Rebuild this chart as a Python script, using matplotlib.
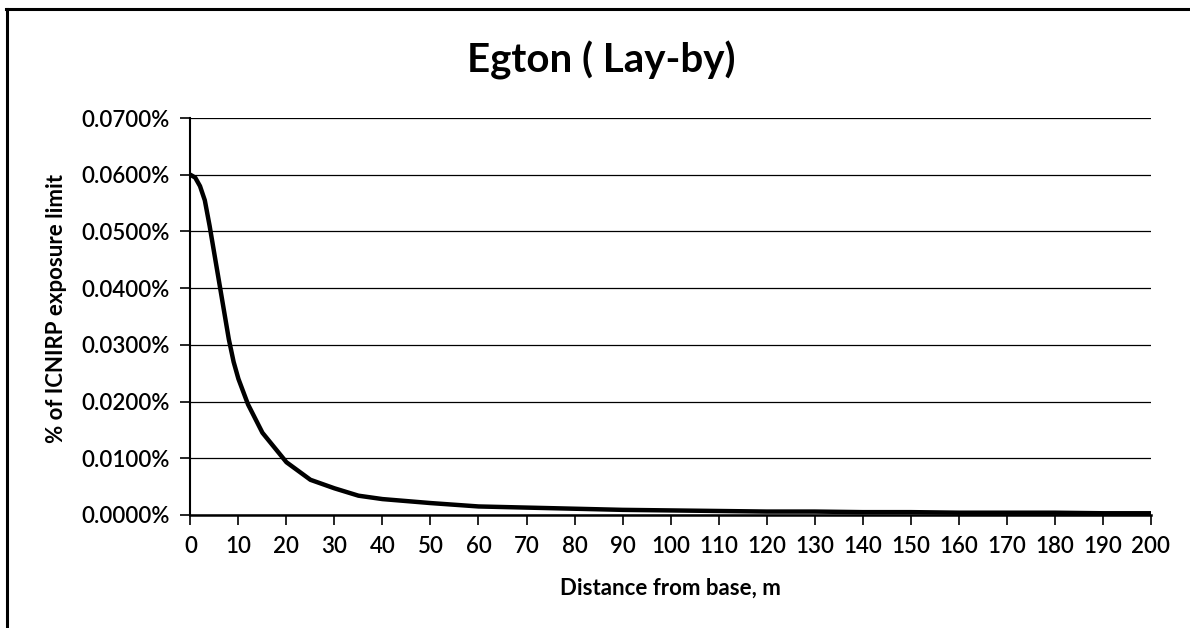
import matplotlib
matplotlib.use('Agg')
import matplotlib.pyplot as plt
from matplotlib.lines import Line2D
from matplotlib.ticker import FuncFormatter, MultipleLocator

# distance from base (m) and % of ICNIRP exposure limit
distance = [0, 1, 2, 3, 4, 5, 6, 7, 8, 9, 10, 12, 15, 20, 25, 30, 35, 40, 50,
            60, 70, 80, 90, 100, 110, 120, 130, 140, 150, 160, 170, 180, 190, 200]
exposure = [0.0600, 0.0595, 0.0580, 0.0555, 0.0510, 0.0460, 0.0410, 0.0360,
            0.0310, 0.0270, 0.0240, 0.0195, 0.0145, 0.0093, 0.0062, 0.0047,
            0.0034, 0.0028, 0.0021, 0.0015, 0.0013, 0.0011, 0.0009, 0.0008,
            0.0007, 0.0006, 0.0006, 0.0005, 0.0005, 0.0004, 0.0004, 0.0004,
            0.0003, 0.0003]

plt.rcParams['font.family'] = ['Lato', 'DejaVu Sans']

fig = plt.figure(figsize=(11.9, 6.28), dpi=100)
ax = fig.add_axes([0.160, 0.180, 0.807, 0.632])

ax.plot(distance, exposure, color='black', linewidth=3.2, solid_capstyle='round')

ax.set_xlim(0, 200)
ax.set_ylim(0, 0.07)
ax.xaxis.set_major_locator(MultipleLocator(10))
ax.yaxis.set_major_locator(MultipleLocator(0.01))
ax.yaxis.set_major_formatter(FuncFormatter(lambda v, p: '{:.4f}%'.format(v)))

ax.grid(axis='y', color='black', linewidth=0.9)
ax.set_axisbelow(True)
for side in ['top', 'right']:
    ax.spines[side].set_visible(False)
ax.spines['left'].set_linewidth(1.5)
ax.spines['bottom'].set_linewidth(1.8)
ax.tick_params(axis='both', direction='out', length=7, width=1.2, labelsize=16)
ax.tick_params(axis='x', pad=8)
ax.tick_params(axis='y', pad=8)
for lbl in ax.get_xticklabels() + ax.get_yticklabels():
    lbl.set_fontweight('semibold')

ax.set_xlabel('Distance from base, m', fontsize=16, fontweight='bold')
ax.set_ylabel('% of ICNIRP exposure limit', fontsize=16, fontweight='bold')
ax.xaxis.set_label_coords(0.5, -0.158)
ax.yaxis.set_label_coords(-0.128, 0.52)

fig.text(0.505, 0.884, 'Egton ( Lay-by)', ha='center', va='baseline',
         fontsize=29, fontweight='bold')

# frame edges of the scanned chart (top and left only)
fig.lines.append(Line2D([0.005, 1.0], [0.985, 0.985], transform=fig.transFigure,
                        color='black', linewidth=2.2))
fig.lines.append(Line2D([0.0055, 0.0055], [0.0, 0.986], transform=fig.transFigure,
                        color='black', linewidth=2.2))

fig.savefig('out.png', dpi=100)
